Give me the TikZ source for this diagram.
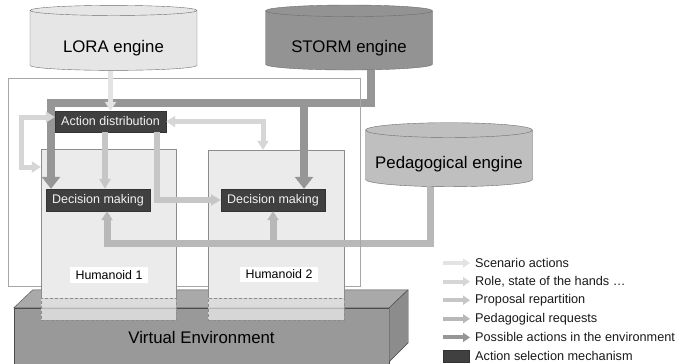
\documentclass[tikz,border=0pt]{standalone}
\usepackage{fontspec}
\setmainfont{Liberation Sans}
\usetikzlibrary{positioning}
\usetikzlibrary{shapes.geometric}
\usetikzlibrary{arrows.meta}
\definecolor{framecol}{HTML}{A6A6A6}
\definecolor{enginedraw}{HTML}{6E6E6E}
\definecolor{lorafill}{HTML}{E6E6E6}
\definecolor{stormfill}{HTML}{939393}
\definecolor{pedfill}{HTML}{BFBFBF}
\definecolor{vefront}{HTML}{999999}
\definecolor{vetop}{HTML}{A9A9A9}
\definecolor{veside}{HTML}{8C8C8C}
\definecolor{humfill}{HTML}{EBEBEB}
\definecolor{humdraw}{HTML}{8C8C8C}
\definecolor{darkfill}{HTML}{404040}
\definecolor{scencol}{HTML}{E3E3E3}
\definecolor{rolecol}{HTML}{D6D6D6}
\definecolor{propcol}{HTML}{C6C6C6}
\definecolor{reqcol}{HTML}{B8B8B8}
\definecolor{posscol}{HTML}{969696}
\begin{document}
\begin{tikzpicture}[x=1pt,y=-1pt,
engine/.style={draw=enginedraw,cylinder,shape border rotate=90,aspect=0.1,minimum width=167pt,minimum height=65pt,inner sep=0pt,text height=27pt,text depth=3.5pt,font=\fontsize{16.8}{20}\selectfont},
dark/.style={draw=black!80,fill=darkfill,text=black!5,inner sep=0pt,font=\fontsize{12.5}{15}\selectfont},
humanoid/.style={draw=humdraw,fill=humfill,inner sep=0pt},
ghost/.style={draw=humdraw,densely dashed,fill=white,fill opacity=0.6,inner sep=0pt,minimum height=22pt},
tag/.style={fill=white,inner xsep=5.5pt,inner ysep=3pt,font=\fontsize{12.4}{15}\selectfont},
legend/.style={anchor=west,inner sep=0pt,text=black!90,font=\fontsize{12.7}{15}\selectfont},
scenario/.style={draw=scencol,line width=5pt,-{Triangle[width=11pt,length=9pt]}},
role/.style={draw=rolecol,line width=5pt,{Triangle[width=11pt,length=9pt]}-{Triangle[width=11pt,length=9pt]}},
proposal/.style={draw=propcol,line width=6pt,-{Triangle[width=11pt,length=10pt]}},
request/.style={draw=reqcol,line width=7pt,-{Triangle[width=11pt,length=9pt]}},
possible/.style={draw=posscol,line width=8pt,-{Triangle[width=18pt,length=12pt]}},
legarrow/.style={line width=4pt,-{Triangle[width=9pt,length=7pt]}}
]
\useasboundingbox (0,0) rectangle (675,364);
%--
\node[draw=framecol,fill=white,minimum width=352pt,minimum height=208pt,inner sep=0pt] (frame) at (184,182) {};
%--
\node[draw=black!70,fill=vefront,minimum width=375pt,minimum height=58pt,inner sep=0pt,font=\fontsize{16.8}{20}\selectfont] (ve) at (201.5,337) {Virtual Environment};
\draw[draw=black!70,fill=vetop] (ve.north west) -- ++(19,-18) -- ++(375,0) -- (ve.north east) -- cycle;
\draw[draw=black!70,fill=veside] (ve.north east) -- ++(19,-18) -- ++(0,53) -- ++(-19,19) -- cycle;
%--
\node[humanoid,minimum width=135pt,minimum height=149pt] (hum1) at (108.5,223.5) {};
\node[ghost,below=0pt of hum1,minimum width=135pt] (ghost1) {};
\node[humanoid,minimum width=136pt,minimum height=148pt] (hum2) at (276,224) {};
\node[ghost,below=0pt of hum2,minimum width=136pt] (ghost2) {};
\node[tag] (tag1) at (109,275) {Humanoid 1};
\node[tag] (tag2) at (279,274.5) {Humanoid 2};
%--
\node[engine,fill=lorafill] (lora) at (113.5,40.5) {LORA engine};
\node[engine,fill=stormfill] (storm) at (349,40.5) {STORM engine};
\node[engine,fill=pedfill,minimum height=64pt,text height=24pt] (ped) at (449,158.5) {Pedagogical engine};
%--
\node[dark,minimum width=111pt,minimum height=21pt] (ad) at (110.5,121.5) {Action distribution};
\node[dark,minimum width=104pt,minimum height=22pt] (dm1) at (98,200) {Decision making};
\node[dark,minimum width=104pt,minimum height=22pt] (dm2) at (273,200) {Decision making};
%--
\coordinate (pa1) at (51,103);
\coordinate (pa2) at (304,103);
\draw[possible] ([xshift=22pt]storm.south) |- (pa1) -- (pa1 |- dm1.north);
\draw[possible] (pa2) -- (pa2 |- dm2.north);
%--
\coordinate (pe1) at (107,243.5);
\draw[request] ([xshift=-19pt]ped.south) |- (pe1) -- (pe1 |- dm1.south);
\draw[request] (dm2.south |- pe1) -- (dm2.south);
%--
\draw[proposal] ([xshift=-5.5pt]ad.south) -- ([xshift=7pt]dm1.north);
\draw[proposal] ([xshift=46.5pt]ad.south) |- (dm2.west);
%--
\coordinate (ro1) at (21,167);
\draw[role] ([yshift=4.5pt]ad.west) -| (ro1) -- (ro1 -| hum1.west);
\draw[role] (ad.east) -| ([xshift=-13pt]hum2.north);
%--
\draw[scenario] (lora.south -| ad.north) -- (ad.north);
\draw[framecol] (frame.north east) -- (frame.south east);
%--
\node[legend] (leg1) at (475,263) {Scenario actions};
\node[legend,below=18.6pt of leg1.west,anchor=west] (leg2) {Role, state of the hands …};
\node[legend,below=18.6pt of leg2.west,anchor=west] (leg3) {Proposal repartition};
\node[legend,below=18.6pt of leg3.west,anchor=west] (leg4) {Pedagogical requests};
\node[legend,below=18.6pt of leg4.west,anchor=west] (leg5) {Possible actions in the environment};
\node[legend,below=18.6pt of leg5.west,anchor=west] (leg6) {Action selection mechanism};
\draw[scenario,legarrow] ([xshift=-32pt]leg1.west) -- ([xshift=-5pt]leg1.west);
\draw[role,legarrow] ([xshift=-32pt]leg2.west) -- ([xshift=-5pt]leg2.west);
\draw[proposal,legarrow] ([xshift=-32pt]leg3.west) -- ([xshift=-5pt]leg3.west);
\draw[request,legarrow] ([xshift=-32pt]leg4.west) -- ([xshift=-5pt]leg4.west);
\draw[possible,legarrow] ([xshift=-32pt]leg5.west) -- ([xshift=-5pt]leg5.west);
\node[dark,minimum width=26pt,minimum height=12pt,left=6pt of leg6] (mech) {};
\end{tikzpicture}
\end{document}
